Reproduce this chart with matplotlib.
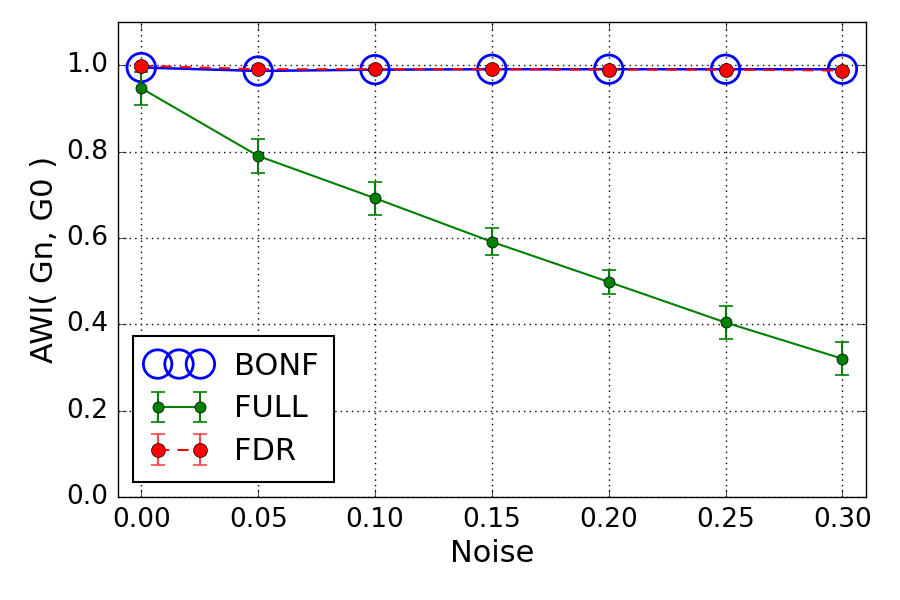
import numpy as np
import matplotlib
matplotlib.use('Agg')
import matplotlib.pyplot as plt

noise = [0.00, 0.05, 0.10, 0.15, 0.20, 0.25, 0.30]

bonf = [0.995, 0.987, 0.990, 0.991, 0.991, 0.991, 0.991]

full = [0.947, 0.790, 0.692, 0.591, 0.498, 0.404, 0.320]
full_err = [0.038, 0.040, 0.038, 0.031, 0.027, 0.039, 0.038]

fdr = [0.999, 0.991, 0.991, 0.991, 0.990, 0.990, 0.988]
fdr_err = [0.004, 0.004, 0.004, 0.004, 0.004, 0.004, 0.004]

plt.style.use('classic')
plt.rcParams['font.family'] = 'DejaVu Sans'

fig = plt.figure(figsize=(9, 6), dpi=100, facecolor='white')
ax = fig.add_axes([0.131, 0.172, 0.831, 0.791])

ax.plot(noise, bonf, color='blue', linewidth=1.8, zorder=2)
ax.scatter(noise, bonf, s=420, facecolors='none', edgecolors='blue',
           linewidths=2.0, label='BONF', zorder=3)
ax.errorbar(noise, full, yerr=full_err, color='green', marker='o',
            markersize=8, markerfacecolor='green', markeredgecolor='black',
            capsize=5, capthick=1.2, linewidth=1.5, label='FULL', zorder=4)
ax.errorbar(noise, fdr, yerr=fdr_err, color='red', marker='o',
            markersize=10, markerfacecolor='red', markeredgecolor='black',
            linestyle='--', dashes=(8, 6), capsize=5, capthick=1.2,
            ecolor='#ff4444', linewidth=1.5, label='FDR', zorder=5)

ax.set_xlim(-0.01, 0.31)
ax.set_ylim(0.0, 1.1)
ax.set_xticks(noise)
ax.set_xticklabels(['%.2f' % v for v in noise])
ax.set_yticks(np.arange(0, 1.01, 0.2))
ax.tick_params(labelsize=19, direction='in', length=6, pad=7)
ax.grid(True, color='black', linestyle=':', linewidth=1.0)
ax.set_xlabel('Noise', fontsize=22)
ax.set_ylabel('AWI( Gn, G0 )', fontsize=22)

leg = ax.legend(loc='lower left', fontsize=22, numpoints=2, scatterpoints=3,
                scatteryoffsets=[0.5], handlelength=2.0, borderpad=0.5,
                labelspacing=0.45, handletextpad=0.8, fancybox=False,
                borderaxespad=0.5)
leg.get_frame().set_linewidth(1.5)

fig.savefig('out.png', dpi=100, facecolor='white')
